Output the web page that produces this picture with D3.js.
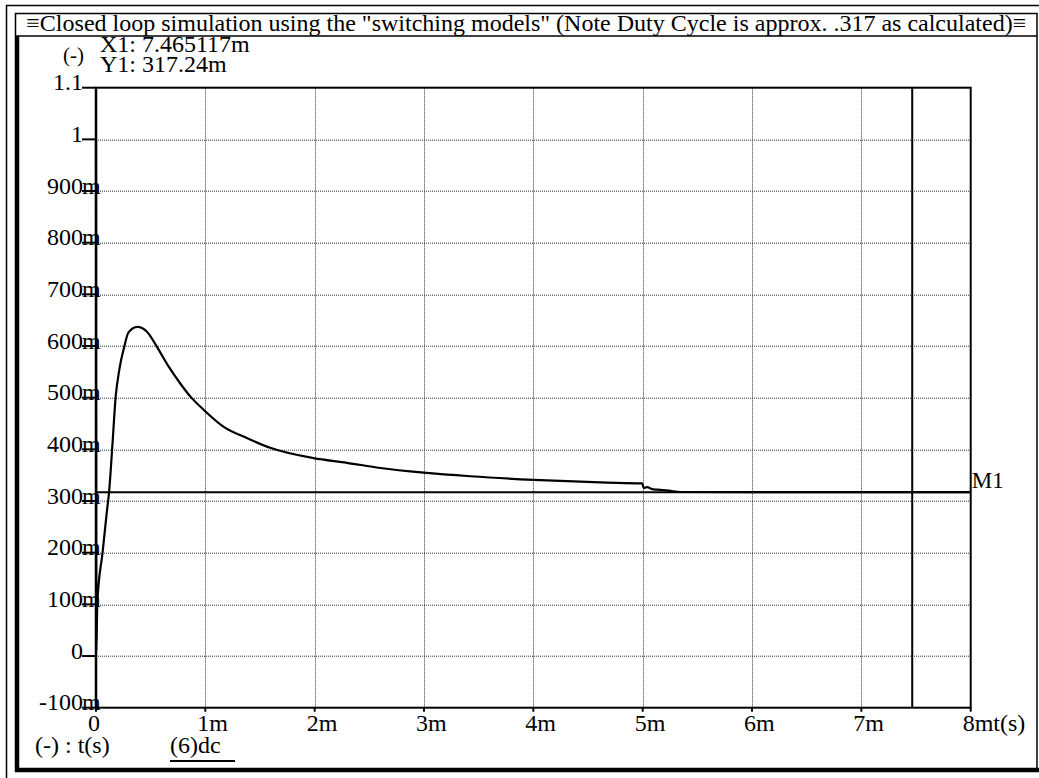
<!DOCTYPE html>
<html lang="en">
<head>
<meta charset="UTF-8">
<title>Closed loop simulation - dc</title>
<script src="https://d3js.org/d3.v7.min.js"></script>
<style>
  html, body { margin: 0; padding: 0; background: #fff; }
  svg text { font-family: "Liberation Serif", "Times New Roman", serif; fill: #000; }
</style>
</head>
<body>
<div id="chart"></div>
<script>
// DATA //
var titleText = "\u2261Closed loop simulation using the \"switching models\" (Note Duty Cycle is approx. .317 as calculated)\u2261";

// time in ms, duty cycle (-)
var tMs = [0, 0.003, 0.012, 0.061, 0.098, 0.119, 0.149, 0.180, 0.213, 0.259, 0.296, 0.378,
           0.464, 0.556, 0.662, 0.769, 0.860, 0.998, 1.165, 1.379, 1.593, 1.989, 2.295,
           2.600, 2.996, 3.423, 4.003, 4.613, 4.995, 5.010, 5.041, 5.086, 5.132, 5.238,
           5.350, 6.000, 7.000, 8.000];
var dc  = [1.0, 0.010, 0.103, 0.202, 0.277, 0.316, 0.405, 0.502, 0.554, 0.599, 0.626, 0.637,
           0.628, 0.599, 0.561, 0.528, 0.503, 0.474, 0.444, 0.422, 0.403, 0.383, 0.374,
           0.364, 0.355, 0.348, 0.341, 0.336, 0.334, 0.325, 0.327, 0.323, 0.322, 0.320,
           0.3175, 0.3172, 0.3172, 0.3172];

var yTickValues = [1.1, 1, 0.9, 0.8, 0.7, 0.6, 0.5, 0.4, 0.3, 0.2, 0.1, 0, -0.1];
var yTickLabels = ["1.1", "1", "900m", "800m", "700m", "600m", "500m", "400m", "300m", "200m", "100m", "0", "-100m"];
var xTickValues = [0, 1, 2, 3, 4, 5, 6, 7, 8];
var xTickLabels = ["0", "1m", "2m", "3m", "4m", "5m", "6m", "7m", "8m"];

var cursorX = 7.465117;   // ms
var cursorY = 0.31724;
var cursorXText = "X1: 7.465117m";
var cursorYText = "Y1: 317.24m";

// DIMENSIONS //
var W = 1039, H = 778;
var plot = { left: 96, top: 87.7, width: 874.7, height: 620 };
var fs = "24px";

var svg = d3.select("#chart").append("svg")
    .attr("width", W).attr("height", H);

// window frame
svg.append("line").attr("x1", 6).attr("y1", 5.5).attr("x2", W).attr("y2", 5.5)
    .attr("stroke", "#000").attr("stroke-width", 1.5);
svg.append("line").attr("x1", 6.5).attr("y1", 5).attr("x2", 6.5).attr("y2", H)
    .attr("stroke", "#000").attr("stroke-width", 1.5);

// cursor readout (drawn under the title bar, like the original)
svg.append("text").attr("x", 100).attr("y", 52).style("font-size", fs).text(cursorXText);
svg.append("text").attr("x", 100).attr("y", 72).style("font-size", fs).text(cursorYText);
svg.append("text").attr("x", 63).attr("y", 62).style("font-size", "21px").text("(-)");

svg.append("rect").attr("x", 15.5).attr("y", 13.5).attr("width", 1021.5).attr("height", 22.5)
    .attr("fill", "#fff").attr("stroke", "#000").attr("stroke-width", 1.5);
svg.append("line").attr("x1", 17).attr("y1", 36).attr("x2", 17).attr("y2", 772)
    .attr("stroke", "#000").attr("stroke-width", 4.5);
svg.append("line").attr("x1", 15).attr("y1", 770).attr("x2", W).attr("y2", 770)
    .attr("stroke", "#000").attr("stroke-width", 4.5);
svg.append("line").attr("x1", 1037).attr("y1", 36).attr("x2", 1037).attr("y2", 768)
    .attr("stroke", "#000").attr("stroke-width", 1.5);

svg.append("text").attr("x", (15.5 + 1037) / 2).attr("y", 31)
    .attr("text-anchor", "middle").style("font-size", fs)
    .text(titleText);

var g = svg.append("g")
    .attr("transform", "translate(" + plot.left + "," + plot.top + ")");

// SCALES //
var x = d3.scaleLinear().domain([0, 8]).range([0, plot.width]);
var y = d3.scaleLinear().domain([-0.1, 1.1]).range([plot.height, 0]);

// grid (dotted)
g.append("g").selectAll("line")
  .data(yTickValues.filter(function(v) { return v < 1.05 && v > -0.05; }))
  .enter().append("line")
    .attr("x1", 0).attr("x2", plot.width)
    .attr("y1", function(d) { return Math.round(y(d)) + 0.5; })
    .attr("y2", function(d) { return Math.round(y(d)) + 0.5; })
    .attr("stroke", "#333").attr("stroke-width", 1).attr("stroke-dasharray", "1,1");
g.append("g").selectAll("line")
  .data(xTickValues.filter(function(v) { return v > 0 && v < 8; }))
  .enter().append("line")
    .attr("y1", 0).attr("y2", plot.height)
    .attr("x1", function(d) { return Math.round(x(d)) + 0.5; })
    .attr("x2", function(d) { return Math.round(x(d)) + 0.5; })
    .attr("stroke", "#333").attr("stroke-width", 1).attr("stroke-dasharray", "1,1");

// frame
g.append("rect").attr("x", 0).attr("y", 0).attr("width", plot.width).attr("height", plot.height)
    .attr("fill", "none").attr("stroke", "#000").attr("stroke-width", 2);
g.append("line").attr("x1", 0).attr("x2", 0).attr("y1", 0).attr("y2", plot.height)
    .attr("stroke", "#000").attr("stroke-width", 2.5);

// Y axis ticks + labels (number ends at tick start, unit hangs over)
var yAxis = g.append("g");
yTickValues.forEach(function(v, i) {
  var yy = y(v);
  yAxis.append("line").attr("x1", -14).attr("x2", 0).attr("y1", yy).attr("y2", yy)
      .attr("stroke", "#000").attr("stroke-width", 2);
  var m = yTickLabels[i].match(/^(-?[\d.]+)(m?)$/);
  yAxis.append("text").attr("x", -13).attr("y", yy + 2.5)
      .attr("text-anchor", "end").style("font-size", fs).text(m[1]);
  if (m[2]) {
    yAxis.append("text").attr("x", -14).attr("y", yy + 2.5)
        .style("font-size", fs).text(m[2]);
  }
});

// X axis ticks + labels (number centred on tick, unit follows)
var xAxis = g.append("g").attr("transform", "translate(0," + plot.height + ")");
xTickValues.forEach(function(v, i) {
  var xx = x(v);
  xAxis.append("line").attr("x1", xx).attr("x2", xx).attr("y1", 0).attr("y2", 4)
      .attr("stroke", "#000").attr("stroke-width", 2);
  var m = xTickLabels[i].match(/^(-?[\d.]+)(m?)$/);
  var num = xAxis.append("text").attr("x", xx - 2).attr("y", 23.5)
      .attr("text-anchor", "middle").style("font-size", fs).text(m[1]);
  var nw = num.node().getComputedTextLength();
  var tail = m[2] + (i === xTickValues.length - 1 ? "t(s)" : "");
  if (tail) {
    xAxis.append("text").attr("x", xx - 2 + nw / 2).attr("y", 23.5)
        .style("font-size", fs).text(tail);
  }
});

// cursor lines
g.append("line").attr("x1", x(cursorX)).attr("x2", x(cursorX)).attr("y1", 0).attr("y2", plot.height)
    .attr("stroke", "#000").attr("stroke-width", 2);
g.append("line").attr("x1", 0).attr("x2", plot.width).attr("y1", y(cursorY)).attr("y2", y(cursorY))
    .attr("stroke", "#000").attr("stroke-width", 2);
g.append("text").attr("x", plot.width + 1).attr("y", y(cursorY) - 4)
    .style("font-size", "23px").text("M1");

// curve
var data = tMs.map(function(t, i) { return { t: t, v: dc[i] }; });
var line = d3.line()
    .x(function(d) { return x(d.t); })
    .y(function(d) { return y(d.v); })
    .curve(d3.curveMonotoneX);
g.append("path").datum(data)
    .attr("fill", "none").attr("stroke", "#000").attr("stroke-width", 2.2)
    .attr("d", line);

// bottom legend
svg.append("text").attr("x", 35).attr("y", 753).style("font-size", fs).text("(-) : t(s)");
svg.append("text").attr("x", 170).attr("y", 753).style("font-size", fs).text("(6)dc");
svg.append("line").attr("x1", 170).attr("x2", 235).attr("y1", 761).attr("y2", 761)
    .attr("stroke", "#000").attr("stroke-width", 2);
</script>
</body>
</html>
